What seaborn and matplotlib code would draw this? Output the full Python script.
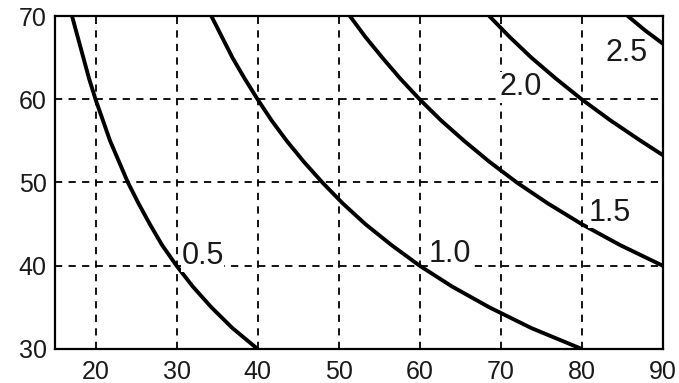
import numpy as np
import pandas as pd
import seaborn as sns
import matplotlib
matplotlib.use("Agg")
import matplotlib.pyplot as plt

# contour levels and the points
levels = ["0.5", "1.0", "1.5", "2.0", "2.5"]
y_steps = [70.0, 67.5, 65.0, 62.5, 60.0, 57.5, 55.0, 52.5, 50.0,
           47.5, 45.0, 42.5, 40.0, 37.5, 35.0, 32.5, 30.0]
x_05 = [17.1, 17.8, 18.5, 19.2, 20.0, 20.9, 21.8, 22.9, 24.0,
        25.3, 26.7, 28.2, 30.0, 32.0, 34.3, 36.9, 40.0]
y_05 = y_steps
x_10 = [34.3, 35.6, 36.9, 38.4, 40.0, 41.7, 43.6, 45.7, 48.0,
        50.5, 53.3, 56.5, 60.0, 64.0, 68.6, 73.8, 80.0]
y_10 = y_steps
x_15 = [51.4, 53.3, 55.4, 57.6, 60.0, 62.6, 65.5, 68.6, 72.0, 75.8, 80.0, 84.7, 90.0]
y_15 = y_steps[:13]
x_20 = [68.6, 71.1, 73.8, 76.8, 80.0, 83.5, 87.3, 90.0]
y_20 = [70.0, 67.5, 65.0, 62.5, 60.0, 57.5, 55.0, 53.3]
x_25 = [85.7, 87.8, 90.0]
y_25 = [70.0, 68.3, 66.7]

# where the level labels sit
label_x = [30.6, 61.1, 80.8, 69.8, 83.0]
label_y = [40.2, 40.5, 45.4, 60.5, 64.6]

x_ticks = [20, 30, 40, 50, 60, 70, 80, 90]
y_ticks = [30, 40, 50, 60, 70]

curves = pd.concat([
    pd.DataFrame({"x": xs, "y": ys, "level": lv})
    for xs, ys, lv in zip([x_05, x_10, x_15, x_20, x_25],
                          [y_05, y_10, y_15, y_20, y_25], levels)
])

sns.set_theme(style="white")
plt.rcParams["font.family"] = ["Liberation Sans", "DejaVu Sans"]

fig = plt.figure(figsize=(6.79, 3.83), dpi=100)
ax = fig.add_axes([0.081, 0.089, 0.895, 0.869])

sns.lineplot(data=curves, x="x", y="y", units="level", estimator=None,
             sort=False, color="black", linewidth=2.8, ax=ax, zorder=3)

ax.set_xlim(15, 90)
ax.set_ylim(30, 70)
ax.set_xticks(x_ticks)
ax.set_yticks(y_ticks)
ax.set_xlabel("")
ax.set_ylabel("")
ax.grid(True, color="black", linewidth=1.3, linestyle=(0, (4, 3.5)))
ax.tick_params(axis="both", length=0, labelsize=18, colors="#1a1a1a")
ax.tick_params(axis="x", pad=8)
ax.tick_params(axis="y", pad=6)
for sp in ax.spines.values():
    sp.set_color("black")
    sp.set_linewidth(1.6)

for lab, lx, ly in zip(levels, label_x, label_y):
    ax.text(lx, ly, lab, fontsize=22, ha="left", va="baseline", color="#1a1a1a",
            zorder=4, bbox=dict(facecolor="white", edgecolor="none", pad=0.5))

fig.savefig("out.png", dpi=100, facecolor="white")
